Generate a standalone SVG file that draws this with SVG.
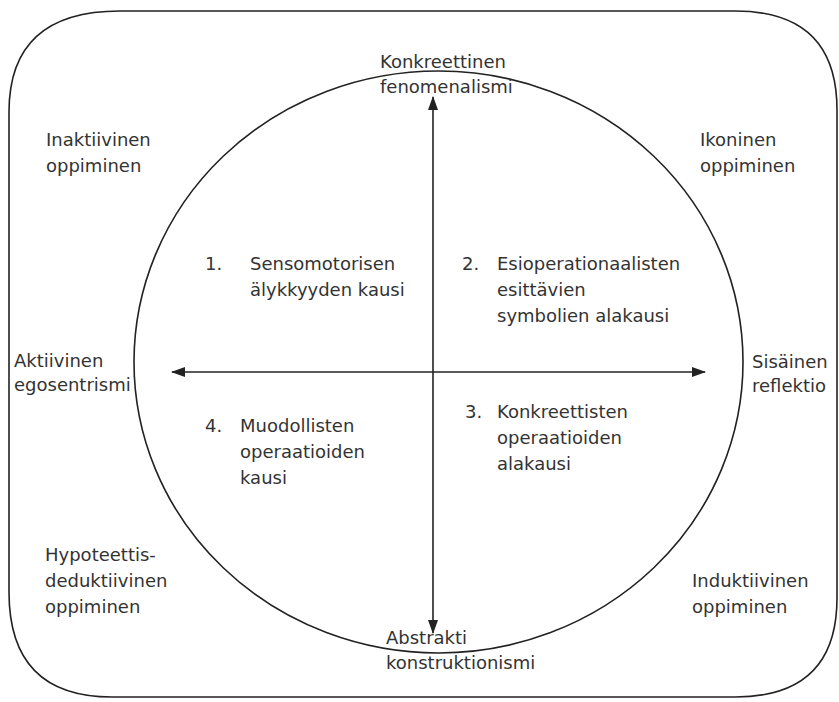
<svg xmlns="http://www.w3.org/2000/svg" width="839" height="702" viewBox="0 0 839 702">
<style>
text{font-family:"DejaVu Sans","Liberation Sans",sans-serif;font-size:18px;fill:#333}
.ln{fill:none;stroke:#222;stroke-width:1.6}
</style>
<defs>
<marker id="ah" viewBox="0 0 14 10" refX="13" refY="5" markerWidth="14" markerHeight="10" markerUnits="userSpaceOnUse" orient="auto-start-reverse">
<path d="M0,0 L14,5 L0,10 Z" fill="#222"/>
</marker>
</defs>
<rect width="839" height="702" fill="#fff"/>
<g id="frame"><path class="ln" d="M120,11 L735,11 Q837,11 837,110 L837,598 Q837,697 735,697 L112,697 Q9,697 9,592 L9,112 Q9,11 120,11 Z"/></g>
<g id="circle"><ellipse class="ln" cx="438.5" cy="362" rx="304.5" ry="291"/></g>
<g id="connectors">
<line class="ln" x1="433" y1="97" x2="433" y2="633" marker-start="url(#ah)" marker-end="url(#ah)"/>
<line class="ln" x1="172" y1="372" x2="705" y2="372" marker-start="url(#ah)" marker-end="url(#ah)"/>
</g>
<g id="top"><text x="380" y="68">Konkreettinen</text><text x="380" y="93">fenomenalismi</text></g>
<g id="bottom"><text x="386" y="644">Abstrakti</text><text x="386" y="669">konstruktionismi</text></g>
<g id="left"><text x="14" y="367">Aktiivinen</text><text x="14" y="391">egosentrismi</text></g>
<g id="right"><text x="752" y="368">Sisäinen</text><text x="752" y="392">reflektio</text></g>
<g id="tl"><text x="46" y="146">Inaktiivinen</text><text x="46" y="172">oppiminen</text></g>
<g id="tr"><text x="700" y="146">Ikoninen</text><text x="700" y="172">oppiminen</text></g>
<g id="bl"><text x="45" y="561">Hypoteettis-</text><text x="45" y="587">deduktiivinen</text><text x="45" y="613">oppiminen</text></g>
<g id="br"><text x="692" y="587">Induktiivinen</text><text x="692" y="613">oppiminen</text></g>
<g id="q1"><text x="205" y="270">1.</text><text x="250" y="270">Sensomotorisen</text><text x="250" y="296">älykkyyden kausi</text></g>
<g id="q2"><text x="462" y="270">2.</text><text x="497" y="270">Esioperationaalisten</text><text x="497" y="296">esittävien</text><text x="497" y="322">symbolien alakausi</text></g>
<g id="q3"><text x="465" y="418">3.</text><text x="497" y="418">Konkreettisten</text><text x="497" y="444">operaatioiden</text><text x="497" y="470">alakausi</text></g>
<g id="q4"><text x="205" y="432">4.</text><text x="240" y="432">Muodollisten</text><text x="240" y="458">operaatioiden</text><text x="240" y="484">kausi</text></g>
</svg>
